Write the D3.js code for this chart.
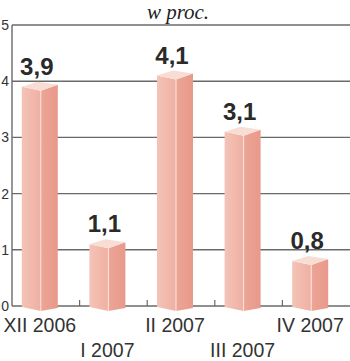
<!DOCTYPE html>
<html><head><meta charset="utf-8">
<script src="https://cdn.jsdelivr.net/npm/d3@7"></script>
<style>html,body{margin:0;padding:0;background:#fff;}svg{display:block;}</style>
</head><body>
<svg id="c" width="350" height="361"></svg>
<script>
const categories = ["XII 2006", "I 2007", "II 2007", "III 2007", "IV 2007"];
const values = [3.9, 1.1, 4.1, 3.1, 0.8];
const valueLabels = ["3,9", "1,1", "4,1", "3,1", "0,8"];
const yTicks = [0, 1, 2, 3, 4, 5];
const title = "w proc.";

const svg = d3.select("#c");
const x = d3.scaleBand().domain(categories).range([12, 350]).padding(0);
const y = d3.scaleLinear().domain([0, 5]).range([306, 25]);

// title
svg.append("text").attr("x", 178).attr("y", 19).attr("text-anchor", "middle")
  .attr("font-family", "Liberation Serif").attr("font-style", "italic").attr("font-size", 21)
  .attr("fill", "#222").text(title);

// gridlines
svg.append("g").selectAll("line").data(yTicks).join("line")
  .attr("x1", 12).attr("x2", 350).attr("y1", d => y(d)).attr("y2", d => y(d))
  .attr("stroke", "#6a6a6a").attr("stroke-width", 1.4);
// axis line
svg.append("line").attr("x1", 12).attr("x2", 12).attr("y1", y(5)).attr("y2", y(0))
  .attr("stroke", "#6a6a6a").attr("stroke-width", 1.4);
// y tick labels
svg.append("g").selectAll("text").data(yTicks).join("text")
  .attr("x", 9).attr("y", d => y(d) + 5).attr("text-anchor", "end")
  .attr("font-family", "Liberation Sans").attr("font-size", 14).attr("fill", "#333")
  .text(d => d);
// category boundary ticks
svg.append("g").selectAll("line").data(categories.slice(1)).join("line")
  .attr("x1", d => x(d)).attr("x2", d => x(d)).attr("y1", y(0)).attr("y2", y(0) - 6)
  .attr("stroke", "#6a6a6a").attr("stroke-width", 1.2);

const cxOf = c => x(c) + x.bandwidth() / 2 - 6;
const data = categories.map((c, i) => ({c, v: values[i], lab: valueLabels[i]}));

const defs = svg.append("defs");
const gF = defs.append("linearGradient").attr("id", "gf");
gF.append("stop").attr("offset", "0%").attr("stop-color", "#f4c3b7");
gF.append("stop").attr("offset", "100%").attr("stop-color", "#efb0a2");
const gS = defs.append("linearGradient").attr("id", "gs");
gS.append("stop").attr("offset", "0%").attr("stop-color", "#eca596");
gS.append("stop").attr("offset", "100%").attr("stop-color", "#e8998a");

const bars = svg.append("g").selectAll("g").data(data).join("g");
const pts = a => a.map(p => p.join(",")).join(" ");
bars.append("polygon").attr("fill", "url(#gf)").attr("points", d => {
  const cx = cxOf(d.c), yv = y(d.v), y0 = y(0);
  return pts([[cx - 18, yv], [cx + 1, yv + 4], [cx + 1, y0 + 5], [cx - 18, y0 + 1]]);
});
bars.append("polygon").attr("fill", "url(#gs)").attr("points", d => {
  const cx = cxOf(d.c), yv = y(d.v), y0 = y(0);
  return pts([[cx + 1, yv + 4], [cx + 18, yv - 2], [cx + 18, y0 + 2], [cx + 1, y0 + 5]]);
});
bars.append("polygon").attr("fill", "#f8ddd5").attr("points", d => {
  const cx = cxOf(d.c), yv = y(d.v);
  return pts([[cx - 18, yv], [cx - 2, yv - 5], [cx + 18, yv - 2], [cx + 1, yv + 4]]);
});
bars.append("line").attr("stroke", "#fbe6e0").attr("stroke-width", 1)
  .attr("x1", d => cxOf(d.c) + 1).attr("x2", d => cxOf(d.c) + 1)
  .attr("y1", d => y(d.v) + 4).attr("y2", y(0) + 5);

// value labels
bars.append("text").attr("x", d => cxOf(d.c) - 3).attr("y", d => y(d.v) - 12)
  .attr("text-anchor", "middle").attr("font-family", "Liberation Sans").attr("font-weight", "bold")
  .attr("font-size", 24).attr("fill", "#2a2a2a").text(d => d.lab);

// category labels
svg.append("g").selectAll("text").data(categories).join("text")
  .attr("x", d => cxOf(d)).attr("y", (d, i) => i % 2 === 0 ? 332 : 357)
  .attr("text-anchor", "middle").attr("font-family", "Liberation Sans").attr("font-size", 19.5)
  .attr("fill", "#333").text(d => d);
</script>
</body></html>
